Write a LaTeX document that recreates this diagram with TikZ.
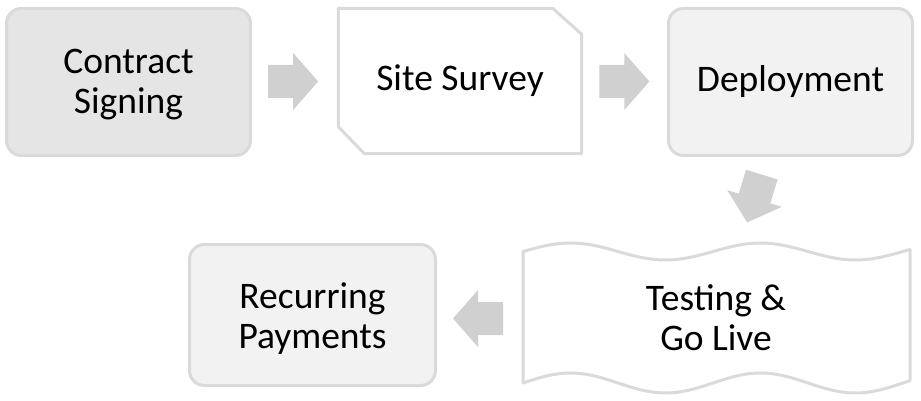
\documentclass[tikz,border=0pt]{standalone}
\usepackage{fontspec}
\setmainfont{Carlito}
\usetikzlibrary{calc}
\definecolor{boxline}{HTML}{DADADA}
\definecolor{arrowgray}{HTML}{D0D0D0}
\definecolor{fillA}{HTML}{E5E5E5}
\definecolor{fillB}{HTML}{F2F2F2}
\tikzset{
  lbl/.style={align=center, inner sep=0pt, font=\fontsize{37.5}{40}\selectfont},
  box/.style={lbl, draw=boxline, line width=3pt, rounded corners=15pt},
  outline/.style={draw=boxline, line width=3pt, line join=round},
  barrow/.pic={\fill[arrowgray] (-25,-16.5) -- (0,-16.5) -- (0,-28.5) -- (25,0) -- (0,28.5) -- (0,16.5) -- (-25,16.5) -- cycle;}
}
\begin{document}
\begin{tikzpicture}[x=1pt, y=-1pt]
\useasboundingbox (0,0) rectangle (921,401);

% boxes
\node[box, fill=fillA, minimum width=244pt, minimum height=147pt] (cs) at (128.5,82) {};
\node[lbl] (cst) at ($(cs.center)+(0,3)$) {Contract\\Signing};
\node[lbl, minimum width=243pt, minimum height=145pt] (ss) at (460,81) {};
\draw[outline, fill=white] (ss.north west) -- ($(ss.north east)+(-29,0)$) -- ($(ss.north east)+(0,26)$) -- (ss.south east) -- ($(ss.south west)+(26,0)$) -- ($(ss.south west)+(0,-27)$) -- cycle;
\node[lbl] (sst) at (ss.center) {Site Survey};
\node[box, fill=fillB, minimum width=244pt, minimum height=147pt] (dp) at (790.5,82) {Deployment};

% wave box
\draw[outline, fill=white]
  plot[domain=0:387, samples=90, smooth] ({523+\x}, {251.5 - 8.5*sin(1.8947*\x)})
  -- plot[domain=387:0, samples=90, smooth] ({523+\x}, {383 - 10*sin(1.8947*\x)})
  -- cycle;
\node[lbl] (tg) at (716,318) {Testing \&\\Go Live};

\node[box, fill=fillB, minimum width=246pt, minimum height=141pt] (rp) at (312.5,315) {};
\node[lbl] (rpt) at ($(rp.center)+(0,4)$) {Recurring\\Payments};

% block arrows
\coordinate (a1) at ($(cs.east)!0.5!(ss.west)+(-2,0)$);
\coordinate (a2) at ($(ss.east)!0.5!(dp.west)$);
\coordinate (a3) at (754.5,198.5);
\coordinate (a4) at (478,318.5);
\pic at (a1) {barrow};
\pic at (a2) {barrow};
\pic[rotate=-107] at (a3) {barrow};
\pic[rotate=180] at (a4) {barrow};
\end{tikzpicture}
\end{document}
